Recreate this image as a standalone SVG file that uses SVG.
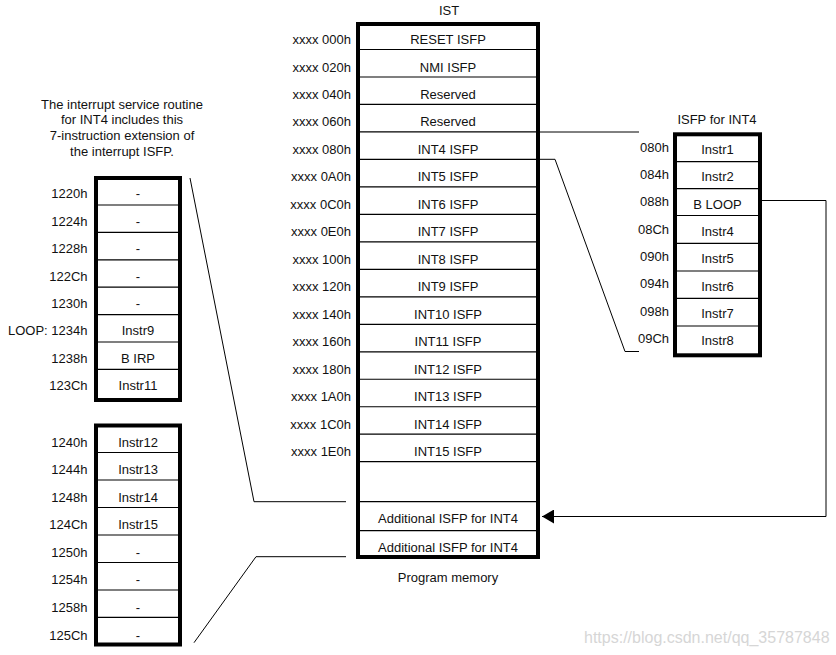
<svg xmlns="http://www.w3.org/2000/svg" width="836" height="655" viewBox="0 0 836 655">
<style>
text{font-family:"Liberation Sans",Arial,sans-serif;font-size:13px;fill:#111}
.c{text-anchor:middle}
.r{text-anchor:end}
.box{fill:#fff;stroke:#000;stroke-width:4}
.div{stroke:#000;stroke-width:1.2}
.con{fill:none;stroke:#000;stroke-width:1}
.wm{font-size:16px;fill:#d6d6d6}
</style>
<defs>
<marker id="ah" markerWidth="12" markerHeight="14" refX="12" refY="7" orient="auto" markerUnits="userSpaceOnUse">
<path d="M0,0 L12,7 L0,14 z" fill="#000"/>
</marker>
</defs>
<rect width="836" height="655" fill="#fff"/>

<g id="connectors">
<path class="con" d="M540,132 H639"/>
<path class="con" d="M540,159.3 H555 L625,351.5 H639"/>
<path class="con" d="M762,200.5 H826 V516.5 H542" marker-end="url(#ah)"/>
<path class="con" d="M190,178 L254,501.7 H346"/>
<path class="con" d="M346,556.7 H256 L194,642.7"/>
</g>

<g id="ist">
<text class="c" x="449" y="15">IST</text>
<rect class="box" x="358" y="24" width="180" height="533"/>
<g class="div">
<line x1="358" x2="538" y1="49.5" y2="49.5"/>
<line x1="358" x2="538" y1="76.98" y2="76.98"/>
<line x1="358" x2="538" y1="104.46" y2="104.46"/>
<line x1="358" x2="538" y1="131.94" y2="131.94"/>
<line x1="358" x2="538" y1="159.42" y2="159.42"/>
<line x1="358" x2="538" y1="186.9" y2="186.9"/>
<line x1="358" x2="538" y1="214.38" y2="214.38"/>
<line x1="358" x2="538" y1="241.86" y2="241.86"/>
<line x1="358" x2="538" y1="269.34" y2="269.34"/>
<line x1="358" x2="538" y1="296.82" y2="296.82"/>
<line x1="358" x2="538" y1="324.3" y2="324.3"/>
<line x1="358" x2="538" y1="351.78" y2="351.78"/>
<line x1="358" x2="538" y1="379.26" y2="379.26"/>
<line x1="358" x2="538" y1="406.74" y2="406.74"/>
<line x1="358" x2="538" y1="434.22" y2="434.22"/>
<line x1="358" x2="538" y1="461.7" y2="461.7"/>
<line x1="358" x2="538" y1="501.7" y2="501.7"/>
<line x1="358" x2="538" y1="530.7" y2="530.7"/>
</g>
<text class="r" x="351" y="44">xxxx 000h</text>
<text class="r" x="351" y="71.5">xxxx 020h</text>
<text class="r" x="351" y="99">xxxx 040h</text>
<text class="r" x="351" y="126.4">xxxx 060h</text>
<text class="r" x="351" y="153.9">xxxx 080h</text>
<text class="r" x="351" y="181.4">xxxx 0A0h</text>
<text class="r" x="351" y="208.9">xxxx 0C0h</text>
<text class="r" x="351" y="236.4">xxxx 0E0h</text>
<text class="r" x="351" y="263.8">xxxx 100h</text>
<text class="r" x="351" y="291.3">xxxx 120h</text>
<text class="r" x="351" y="318.8">xxxx 140h</text>
<text class="r" x="351" y="346.3">xxxx 160h</text>
<text class="r" x="351" y="373.8">xxxx 180h</text>
<text class="r" x="351" y="401.2">xxxx 1A0h</text>
<text class="r" x="351" y="428.7">xxxx 1C0h</text>
<text class="r" x="351" y="456.2">xxxx 1E0h</text>
<text class="c" x="448" y="44">RESET ISFP</text>
<text class="c" x="448" y="71.5">NMI ISFP</text>
<text class="c" x="448" y="99">Reserved</text>
<text class="c" x="448" y="126.4">Reserved</text>
<text class="c" x="448" y="153.9">INT4 ISFP</text>
<text class="c" x="448" y="181.4">INT5 ISFP</text>
<text class="c" x="448" y="208.9">INT6 ISFP</text>
<text class="c" x="448" y="236.4">INT7 ISFP</text>
<text class="c" x="448" y="263.8">INT8 ISFP</text>
<text class="c" x="448" y="291.3">INT9 ISFP</text>
<text class="c" x="448" y="318.8">INT10 ISFP</text>
<text class="c" x="448" y="346.3">INT11 ISFP</text>
<text class="c" x="448" y="373.8">INT12 ISFP</text>
<text class="c" x="448" y="401.2">INT13 ISFP</text>
<text class="c" x="448" y="428.7">INT14 ISFP</text>
<text class="c" x="448" y="456.2">INT15 ISFP</text>
<text class="c" x="448" y="523.3">Additional ISFP for INT4</text>
<text class="c" x="448" y="551.7">Additional ISFP for INT4</text>
<text class="c" x="448" y="581.7">Program memory</text>
</g>

<g id="note">
<text class="c" x="122" y="108.5">The interrupt service routine</text>
<text class="c" x="122" y="124.3">for INT4 includes this</text>
<text class="c" x="122" y="140">7-instruction extension of</text>
<text class="c" x="122" y="155.7">the interrupt ISFP.</text>
</g>

<g id="ext1">
<rect class="box" x="96" y="178" width="84" height="222"/>
<g class="div">
<line x1="96" x2="180" y1="205" y2="205"/>
<line x1="96" x2="180" y1="232.4" y2="232.4"/>
<line x1="96" x2="180" y1="259.8" y2="259.8"/>
<line x1="96" x2="180" y1="287.2" y2="287.2"/>
<line x1="96" x2="180" y1="314.6" y2="314.6"/>
<line x1="96" x2="180" y1="342" y2="342"/>
<line x1="96" x2="180" y1="369.4" y2="369.4"/>
</g>
<text class="r" x="87.5" y="198.3">1220h</text>
<text class="r" x="87.5" y="225.7">1224h</text>
<text class="r" x="87.5" y="253.1">1228h</text>
<text class="r" x="87.5" y="280.5">122Ch</text>
<text class="r" x="87.5" y="307.9">1230h</text>
<text class="r" x="87.5" y="335.3">LOOP: 1234h</text>
<text class="r" x="87.5" y="362.7">1238h</text>
<text class="r" x="87.5" y="390.1">123Ch</text>
<text class="c" x="138" y="198.3">-</text>
<text class="c" x="138" y="225.7">-</text>
<text class="c" x="138" y="253.1">-</text>
<text class="c" x="138" y="280.5">-</text>
<text class="c" x="138" y="307.9">-</text>
<text class="c" x="138" y="335.3">Instr9</text>
<text class="c" x="138" y="362.7">B IRP</text>
<text class="c" x="138" y="390.1">Instr11</text>
</g>

<g id="ext2">
<rect class="box" x="96" y="425.5" width="84" height="219"/>
<g class="div">
<line x1="96" x2="180" y1="452.5" y2="452.5"/>
<line x1="96" x2="180" y1="480" y2="480"/>
<line x1="96" x2="180" y1="507.5" y2="507.5"/>
<line x1="96" x2="180" y1="535" y2="535"/>
<line x1="96" x2="180" y1="562.5" y2="562.5"/>
<line x1="96" x2="180" y1="590" y2="590"/>
<line x1="96" x2="180" y1="617.3" y2="617.3"/>
</g>
<text class="r" x="87.5" y="446.6">1240h</text>
<text class="r" x="87.5" y="474.2">1244h</text>
<text class="r" x="87.5" y="501.7">1248h</text>
<text class="r" x="87.5" y="529.3">124Ch</text>
<text class="r" x="87.5" y="556.8">1250h</text>
<text class="r" x="87.5" y="584.4">1254h</text>
<text class="r" x="87.5" y="611.9">1258h</text>
<text class="r" x="87.5" y="639.5">125Ch</text>
<text class="c" x="138" y="446.6">Instr12</text>
<text class="c" x="138" y="474.2">Instr13</text>
<text class="c" x="138" y="501.7">Instr14</text>
<text class="c" x="138" y="529.3">Instr15</text>
<text class="c" x="138" y="556.8">-</text>
<text class="c" x="138" y="584.4">-</text>
<text class="c" x="138" y="611.9">-</text>
<text class="c" x="138" y="639.5">-</text>
</g>

<g id="isfp_int4">
<text class="c" x="717" y="124">ISFP for INT4</text>
<rect class="box" x="675" y="134.3" width="85" height="221"/>
<g class="div">
<line x1="675" x2="760" y1="161.6" y2="161.6"/>
<line x1="675" x2="760" y1="188.6" y2="188.6"/>
<line x1="675" x2="760" y1="215.5" y2="215.5"/>
<line x1="675" x2="760" y1="243.3" y2="243.3"/>
<line x1="675" x2="760" y1="271" y2="271"/>
<line x1="675" x2="760" y1="298.4" y2="298.4"/>
<line x1="675" x2="760" y1="326" y2="326"/>
</g>
<text class="r" x="669" y="151.5">080h</text>
<text class="r" x="669" y="178.9">084h</text>
<text class="r" x="669" y="206.2">088h</text>
<text class="r" x="669" y="233.6">08Ch</text>
<text class="r" x="669" y="260.9">090h</text>
<text class="r" x="669" y="288.3">094h</text>
<text class="r" x="669" y="315.7">098h</text>
<text class="r" x="669" y="343">09Ch</text>
<text class="c" x="717.5" y="153.8">Instr1</text>
<text class="c" x="717.5" y="181.2">Instr2</text>
<text class="c" x="717.5" y="208.5">B LOOP</text>
<text class="c" x="717.5" y="235.9">Instr4</text>
<text class="c" x="717.5" y="263.2">Instr5</text>
<text class="c" x="717.5" y="290.6">Instr6</text>
<text class="c" x="717.5" y="318">Instr7</text>
<text class="c" x="717.5" y="345.3">Instr8</text>
</g>

<text class="wm" x="584" y="643">https://blog.csdn.net/qq_35787848</text>
</svg>
